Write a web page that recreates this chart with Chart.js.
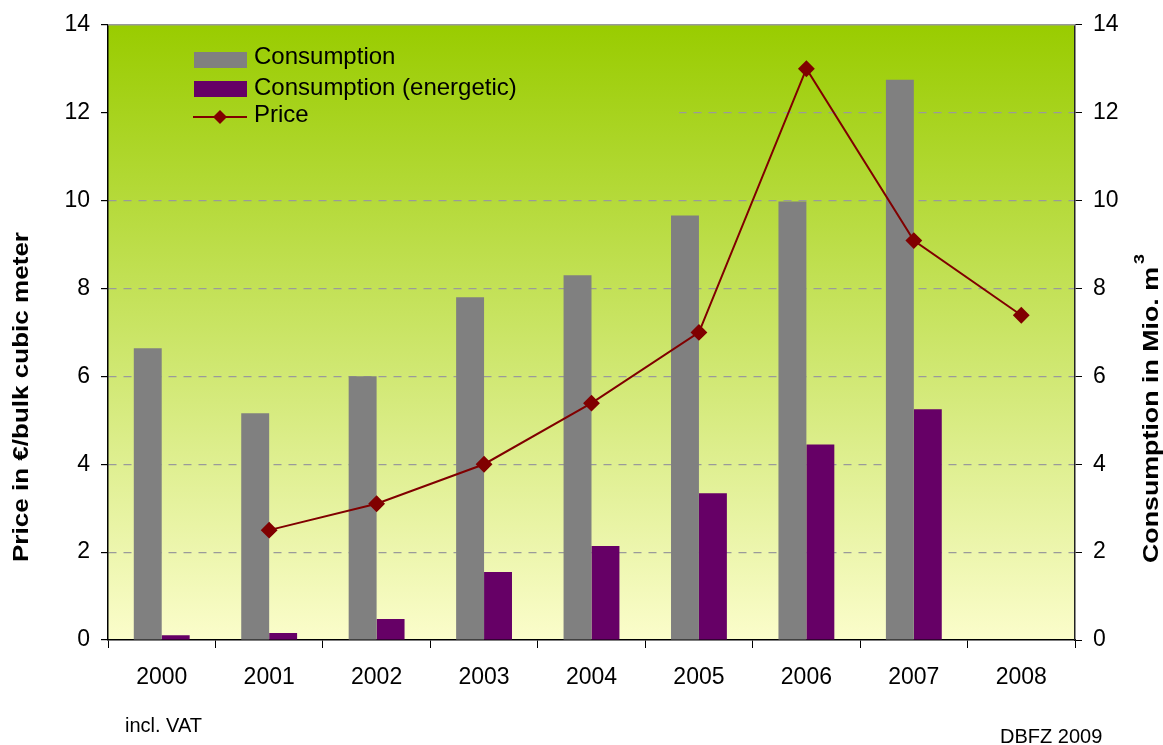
<!DOCTYPE html>
<html>
<head>
<meta charset="utf-8">
<script src="https://cdn.jsdelivr.net/npm/chart.js@4.4.1/dist/chart.umd.min.js"></script>
<style>
  body { margin: 0; background: #fff; }
  #wrap { width: 1163px; height: 745px; position: relative; }
</style>
</head>
<body>
<div id="wrap"><canvas id="abc"></canvas></div>
<script>
const years = ["2000", "2001", "2002", "2003", "2004", "2005", "2006", "2007", "2008"];
const consumption = [6.64, 5.16, 6.0, 7.8, 8.3, 9.66, 9.98, 12.75, null];
const consumptionEnergetic = [0.11, 0.16, 0.48, 1.55, 2.14, 3.34, 4.45, 5.25, null];
const price = [null, 2.5, 3.1, 4.0, 5.39, 7.0, 13.0, 9.09, 7.39];
const yTicks = [0, 2, 4, 6, 8, 10, 12, 14];

const fontName = "'Liberation Sans', Arial, sans-serif";

// background gradient + hide grid behind legend
const bgPlugin = {
  id: "bg",
  beforeDraw(chart) {
    const c = chart.ctx, a = chart.chartArea;
    const g = c.createLinearGradient(0, a.top, 0, a.bottom);
    g.addColorStop(0, "#99cc00");
    g.addColorStop(1, "#fbfdcb");
    chart.$grad = g;
    c.save();
    c.fillStyle = g;
    c.fillRect(a.left, a.top, a.right - a.left, a.bottom - a.top);
    c.restore();
  },
  beforeDatasetsDraw(chart) {
    const c = chart.ctx, a = chart.chartArea;
    c.save();
    c.fillStyle = chart.$grad;
    c.fillRect(a.left + 1, a.top + 1, 678 - a.left, 122 - a.top);
    // top border
    c.strokeStyle = "#999";
    c.lineWidth = 1.5;
    c.beginPath();
    c.moveTo(a.left, a.top);
    c.lineTo(a.right, a.top);
    c.stroke();
    c.restore();
  },
  afterDraw(chart) {
    const c = chart.ctx;
    const ds = chart.data.datasets;
    c.save();
    // legend
    c.font = "24px " + fontName;
    c.textBaseline = "middle";
    c.textAlign = "left";
    c.fillStyle = ds[0].backgroundColor;
    c.fillRect(194, 52, 53, 16);
    c.fillStyle = ds[1].backgroundColor;
    c.fillRect(194, 81, 53, 16);
    c.strokeStyle = ds[2].borderColor;
    c.lineWidth = 2;
    c.beginPath(); c.moveTo(193, 117); c.lineTo(247, 117); c.stroke();
    c.fillStyle = ds[2].borderColor;
    c.beginPath();
    c.moveTo(220, 110); c.lineTo(227, 117); c.lineTo(220, 124); c.lineTo(213, 117);
    c.closePath(); c.fill();
    c.fillStyle = "#000";
    c.fillText(ds[0].label, 254, 57);
    c.fillText(ds[1].label, 254, 88);
    c.fillText(ds[2].label, 254, 115);

    // axis titles (source picture is stretched vertically)
    const vtext = (text, cx, cy, len, size) => {
      c.save();
      c.font = "bold " + size + "px " + fontName;
      const w = c.measureText(text).width;
      c.translate(cx, cy);
      c.rotate(-Math.PI / 2);
      c.scale(len / w, 1);
      c.textAlign = "center";
      c.textBaseline = "middle";
      c.fillStyle = "#000";
      c.fillText(text, 0, 0);
      c.restore();
    };
    vtext("Price in €/bulk cubic meter", 22, 397, 330, 22);
    vtext("Consumption in Mio. m", 1152, 415, 296, 22);
    vtext("3", 1140, 259, 10, 15);

    // notes
    c.font = "20px " + fontName;
    c.textBaseline = "middle";
    c.textAlign = "left";
    c.fillText("incl. VAT", 125, 726);
    c.fillText("DBFZ 2009", 1000, 737);
    c.restore();
  }
};

var a = document.getElementById("abc");
new Chart(a, {
  type: "bar",
  data: {
    labels: years,
    datasets: [
      {
        label: "Consumption",
        data: consumption,
        backgroundColor: "#808080",
        yAxisID: "y1",
        order: 1
      },
      {
        label: "Consumption (energetic)",
        data: consumptionEnergetic,
        backgroundColor: "#660066",
        yAxisID: "y1",
        order: 1
      },
      {
        type: "line",
        label: "Price",
        data: price,
        borderColor: "#800000",
        backgroundColor: "#800000",
        borderWidth: 2,
        pointStyle: "rectRot",
        pointRadius: 7,
        pointHoverRadius: 7,
        tension: 0,
        yAxisID: "y",
        order: 0
      }
    ]
  },
  options: {
    responsive: true,
    maintainAspectRatio: false,
    animation: false,
    layout: { padding: { top: 24, left: 0, right: 0, bottom: 0 } },
    datasets: {
      bar: { categoryPercentage: 0.52, barPercentage: 1.0 }
    },
    plugins: {
      legend: { display: false },
      tooltip: { enabled: false }
    },
    scales: {
      x: {
        offset: true,
        grid: {
          offset: true,
          drawOnChartArea: false,
          color: "#000",
          tickLength: 8
        },
        border: { color: "#000", width: 1.5 },
        ticks: { color: "#000", font: { family: fontName, size: 23 }, padding: 16, maxRotation: 0 },
        afterFit(s) { s.height = 105; }
      },
      y: {
        position: "left",
        min: 0,
        max: 14,
        afterBuildTicks(s) { s.ticks = yTicks.map(v => ({ value: v })); },
        grid: {
          color: (ctx) => (ctx.tick && (ctx.tick.value === 0 || ctx.tick.value === 14)) ? "rgba(0,0,0,0)" : "#9a9a9a",
          tickColor: "#000",
          tickLength: 7,
          lineWidth: 1.2,
          tickBorderDash: []
        },
        border: { color: "#000", width: 1.5, dash: [8, 7] },
        ticks: { color: "#000", font: { family: fontName, size: 23 }, padding: 11 },
        afterFit(s) { s.width = 108; }
      },
      y1: {
        position: "right",
        min: 0,
        max: 14,
        afterBuildTicks(s) { s.ticks = yTicks.map(v => ({ value: v })); },
        grid: { drawOnChartArea: false, color: "#000", tickLength: 7 },
        border: { color: "#222", width: 1.5 },
        ticks: { color: "#000", font: { family: fontName, size: 23 }, padding: 11 },
        afterFit(s) { s.width = 88; }
      }
    }
  },
  plugins: [bgPlugin]
});
</script>
</body>
</html>
